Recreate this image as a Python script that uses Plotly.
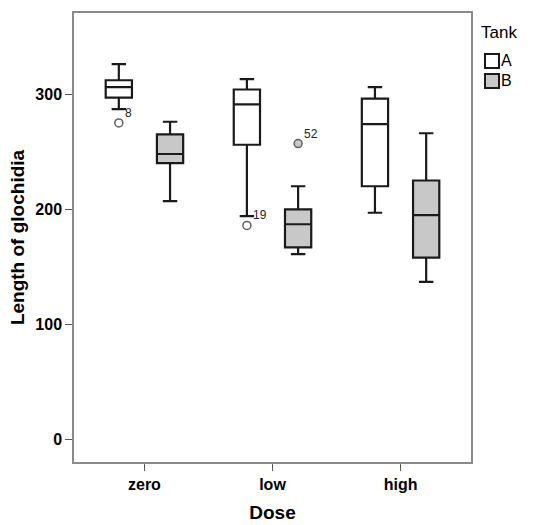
import plotly.graph_objects as go

doses = ["zero", "low", "high"]
tanks = ["A", "B"]

# Precomputed box statistics per tank (order: zero, low, high)
lowerfence = {"A": [287, 194, 197], "B": [207, 161, 137]}
q1 = {"A": [297, 256, 220], "B": [240, 167, 158]}
median = {"A": [306, 291, 274], "B": [248, 187, 195]}
q3 = {"A": [312, 304, 296], "B": [265, 200, 225]}
upperfence = {"A": [326, 313, 306], "B": [276, 220, 266]}

# Outliers: (dose, tank, value, case label)
out_dose = ["zero", "low", "low"]
out_tank = ["A", "A", "B"]
out_value = [275, 186, 257]
out_label = ["8", "19", "52"]

y_ticks = [0, 100, 200, 300]

fills = {"A": "#ffffff", "B": "#c8c8c8"}
offset = {"A": -0.2, "B": 0.2}
FONT = "Liberation Sans, Arial, sans-serif"
W, H = 544, 525
ML, MR, MT, MB = 74, 73, 13, 63
PW, PH = W - ML - MR, H - MT - MB


def px_x(px):
    return (px - ML) / PW


def px_y(py):
    return (H - MB - py) / PH


fig = go.Figure()
for t in tanks:
    pos = [i + offset[t] for i in range(len(doses))]
    fig.add_trace(go.Box(
        x=pos, q1=q1[t], median=median[t], q3=q3[t],
        lowerfence=lowerfence[t], upperfence=upperfence[t],
        name=t, width=0.205, whiskerwidth=0.55,
        fillcolor=fills[t], line=dict(color="#1a1a1a", width=2.2),
        boxpoints=False, hoverinfo="skip", showlegend=False,
    ))

for d, t, v, lab in zip(out_dose, out_tank, out_value, out_label):
    xp = doses.index(d) + offset[t]
    fig.add_trace(go.Scatter(
        x=[xp], y=[v], mode="markers", showlegend=False,
        marker=dict(symbol="circle", size=8, color=fills[t],
                    line=dict(color="#606060", width=1.5)),
        hoverinfo="skip",
    ))
    fig.add_annotation(x=xp, y=v, text=lab, showarrow=False,
                       xanchor="left", yanchor="middle", xshift=4, yshift=10,
                       font=dict(family=FONT, size=12, color="#222"))

# Legend (manual, to match the compact layout)
fig.add_annotation(xref="paper", yref="paper", x=px_x(479), y=px_y(32),
                   text="Tank", showarrow=False, xanchor="left", yanchor="middle",
                   font=dict(family=FONT, size=17, color="#000"))
leg_top = [54, 74]
for t, top in zip(tanks, leg_top):
    fig.add_shape(type="rect", xref="paper", yref="paper",
                  x0=px_x(485), x1=px_x(499), y0=px_y(top + 14), y1=px_y(top),
                  fillcolor=fills[t], line=dict(color="#1a1a1a", width=2))
    fig.add_annotation(xref="paper", yref="paper", x=px_x(499), y=px_y(top + 7),
                       text=t, showarrow=False, xanchor="left", yanchor="middle",
                       font=dict(family=FONT, size=16, color="#000"))

fig.update_layout(
    width=W, height=H,
    margin=dict(l=ML, r=MR, t=MT, b=MB, autoexpand=False),
    paper_bgcolor="white", plot_bgcolor="white",
    font=dict(family=FONT, color="#000"),
    showlegend=False,
)
fig.update_xaxes(
    range=[-0.55, 2.55], tickvals=list(range(len(doses))),
    ticktext=["<b>%s</b>" % d for d in doses],
    showgrid=False, zeroline=False, showline=True, mirror=True,
    linecolor="#8a8a8a", linewidth=1.5, ticks="outside", ticklen=7,
    tickcolor="#555", tickfont=dict(size=16, family=FONT), automargin=False,
    title=dict(text="<b>Dose</b>", font=dict(size=19), standoff=14),
)
fig.update_yaxes(
    range=[-19.4, 370.4], tickvals=y_ticks,
    ticktext=["<b>%d</b>" % v for v in y_ticks],
    showgrid=False, zeroline=False, showline=True, mirror=True,
    linecolor="#8a8a8a", linewidth=1.5, ticks="outside", ticklen=7,
    tickcolor="#555", tickfont=dict(size=16, family=FONT), automargin=False,
    title=dict(text="<b>Length of glochidia</b>", font=dict(size=19), standoff=6),
)
fig.write_html("out.html", config={"displayModeBar": False},
               post_script="document.body.style.margin='0';")
